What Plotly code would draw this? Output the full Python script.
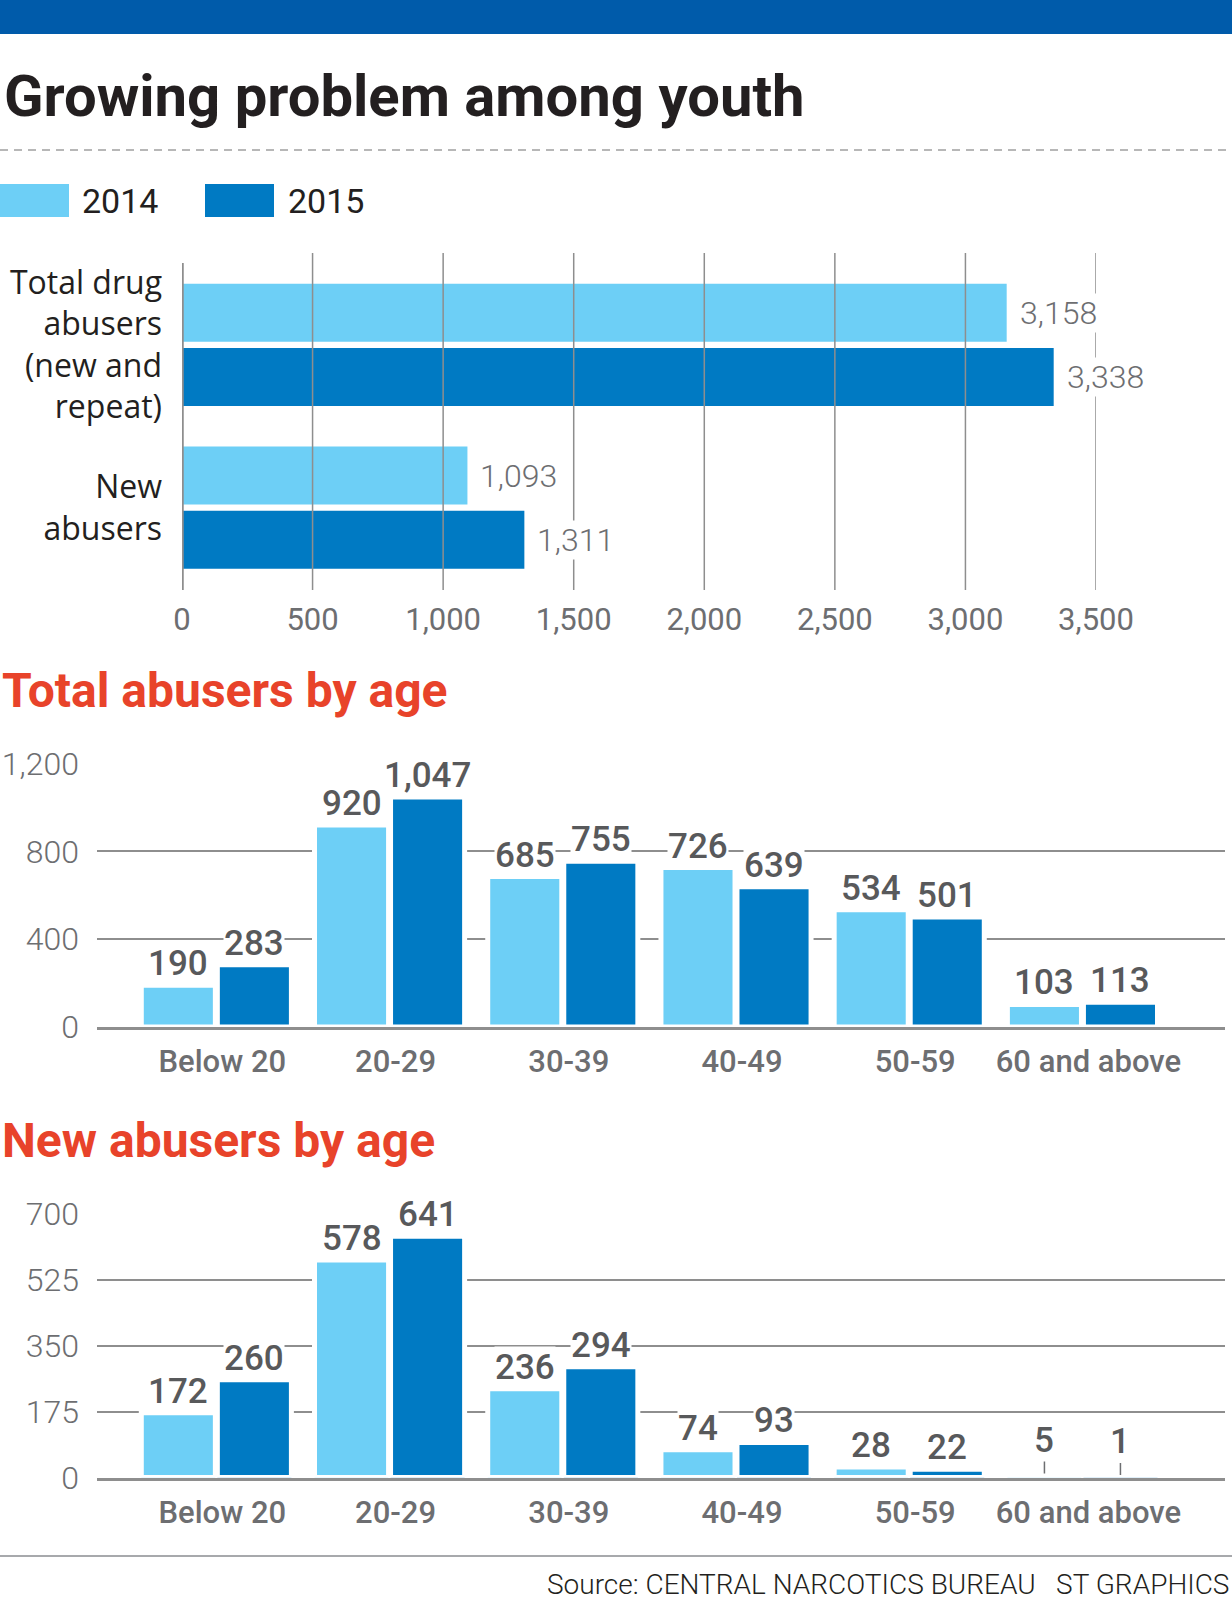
import plotly.graph_objects as go

W, H = 1232, 1600

# ---- data ----
years = ["2014", "2015"]
year_colors = ["#6DCFF6", "#007AC3"]

overall_labels = ["Total drug<br>abusers<br>(new and<br>repeat)", "New<br>abusers"]
overall_2014 = [3158, 1093]
overall_2015 = [3338, 1311]
overall_ticks = [0, 500, 1000, 1500, 2000, 2500, 3000, 3500]

age_groups = ["Below 20", "20-29", "30-39", "40-49", "50-59", "60 and above"]
total_2014 = [190, 920, 685, 726, 534, 103]
total_2015 = [283, 1047, 755, 639, 501, 113]
total_ticks = [0, 400, 800, 1200]

new_2014 = [172, 578, 236, 74, 28, 5]
new_2015 = [260, 641, 294, 93, 22, 1]
new_ticks = [0, 175, 350, 525, 700]

# ---- styles ----
DARK = "#231F20"
GREY = "#6D6E71"
VALGREY = "#58595B"
RED = "#E8432A"
GRID = "#8E8E8E"
SANS = "Roboto"


def py(px):
    # pixel row -> paper y
    return 1 - px / H


def pxx(px):
    return px / W


fig = go.Figure()

# chart 1: horizontal bars, fixed thickness via width/offset
bw, gap = 0.357, 0.019
for i, vals in enumerate([overall_2014, overall_2015]):
    fig.add_trace(go.Bar(y=overall_labels, x=vals, orientation="h", name=years[i],
                         marker=dict(color=year_colors[i], line_width=0),
                         width=bw, offset=(-bw - gap) if i == 0 else gap,
                         xaxis="x", yaxis="y", showlegend=False, hoverinfo="x"))

# charts 2 and 3: grouped vertical bars
for i, vals in enumerate([total_2014, total_2015]):
    fig.add_trace(go.Bar(x=age_groups, y=vals, name=years[i],
                         marker=dict(color=year_colors[i], line=dict(color="white", width=5)),
                         xaxis="x2", yaxis="y2", showlegend=False))
for i, vals in enumerate([new_2014, new_2015]):
    fig.add_trace(go.Bar(x=age_groups, y=vals, name=years[i],
                         marker=dict(color=year_colors[i], line=dict(color="white", width=5)),
                         xaxis="x3", yaxis="y3", showlegend=False))

annotations = []
shapes = []

# value labels, chart 1
for i, vals in enumerate([overall_2014, overall_2015]):
    for cat, v in zip(overall_labels, vals):
        annotations.append(dict(x=v, y=cat, xref="x", yref="y", text=f"{v:,}", showarrow=False,
                                xanchor="left", yanchor="middle", xshift=12,
                                yshift=32 if i == 0 else -32, bgcolor="white", borderpad=0,
                                font=dict(family=SANS, size=32, color=GREY, weight=300)))


def column_labels(xr, yr, vals_pair, top):
    for i, vals in enumerate(vals_pair):
        for cat, v in zip(age_groups, vals):
            small = v < top * 0.02
            annotations.append(dict(x=cat, y=v, xref=xr, yref=yr, text=f"{v:,}",
                                    showarrow=small, arrowhead=0, arrowwidth=1.5,
                                    arrowcolor=GREY, ax=0, ay=-14, standoff=2,
                                    xanchor="center", yanchor="bottom",
                                    xshift=-38 if i == 0 else 38,
                                    bgcolor="white", borderpad=0,
                                    font=dict(family=SANS, size=35, color=VALGREY, weight=500)))


column_labels("x2", "y2", [total_2014, total_2015], 1200)
column_labels("x3", "y3", [new_2014, new_2015], 700)

# chart 1 grid lines drawn above the bars
for t in overall_ticks:
    shapes.append(dict(type="line", xref="x", yref="y domain", x0=t, x1=t,
                       y0=0, y1=0.97 if t == 0 else 1, layer="above",
                       line=dict(color=GRID, width=3.5 if t == 0 else 1.5)))

# header decorations
shapes.append(dict(type="rect", xref="paper", yref="paper", x0=0, x1=1, y0=py(34), y1=1,
                   fillcolor="#005BAA", line_width=0))
shapes.append(dict(type="line", xref="paper", yref="paper", x0=0, x1=1, y0=py(150), y1=py(150),
                   line=dict(color="#A0A0A0", width=1.5, dash="8px,6px")))
shapes.append(dict(type="line", xref="paper", yref="paper", x0=0, x1=1, y0=py(1556), y1=py(1556),
                   line=dict(color="#A7A9AC", width=2)))

# legend swatches
for i, (x0, x1, tx) in enumerate([(0, 69, 80), (205, 274, 286)]):
    shapes.append(dict(type="rect", xref="paper", yref="paper", x0=pxx(x0), x1=pxx(x1),
                       y0=py(217), y1=py(184), fillcolor=year_colors[i], line_width=0))
    annotations.append(dict(x=pxx(tx), y=py(201), xref="paper", yref="paper", text=years[i],
                            showarrow=False, xanchor="left", yanchor="middle",
                            font=dict(family=SANS, size=34, color=DARK)))

annotations += [
    dict(x=pxx(2), y=py(96), xref="paper", yref="paper", text="Growing problem among youth",
         showarrow=False, xanchor="left", yanchor="middle",
         font=dict(family=SANS, size=58, color=DARK, weight=700)),
    dict(x=pxx(0), y=py(690), xref="paper", yref="paper", text="Total abusers by age",
         showarrow=False, xanchor="left", yanchor="middle",
         font=dict(family=SANS, size=48, color=RED, weight=700)),
    dict(x=pxx(0), y=py(1140), xref="paper", yref="paper", text="New abusers by age",
         showarrow=False, xanchor="left", yanchor="middle",
         font=dict(family=SANS, size=48, color=RED, weight=700)),
    dict(x=pxx(1231), y=py(1584), xref="paper", yref="paper",
         text="Source: CENTRAL NARCOTICS BUREAU   ST GRAPHICS",
         showarrow=False, xanchor="right", yanchor="middle",
         font=dict(family=SANS, size=28, color=DARK, weight=300)),
]

cat_font = dict(family=SANS, size=31, color=GREY, weight=500)
yt_font = dict(family=SANS, size=32, color=GREY, weight=300)

fig.update_layout(
    width=W, height=H, autosize=False,
    margin=dict(l=0, r=0, t=0, b=0),
    paper_bgcolor="white", plot_bgcolor="rgba(0,0,0,0)",
    barmode="group", bargap=0.122, bargroupgap=0.026,
    showlegend=False,
    annotations=annotations, shapes=shapes,
    xaxis=dict(domain=[pxx(182), pxx(1096)], range=[0, 3500], anchor="y", automargin=False,
               tickvals=overall_ticks, tickformat=",", showgrid=False, zeroline=False,
               showline=False, ticks="", tickfont=dict(family=SANS, size=31, color=GREY),
               ticklabelstandoff=8),
    yaxis=dict(domain=[py(590), py(253)], anchor="x", type="category", automargin=False,
               categoryorder="array", categoryarray=overall_labels,
               range=[1.507, -0.565], showgrid=False, zeroline=False, showline=False,
               ticks="", tickfont=dict(family="Open Sans", size=32, color=DARK),
               ticklabelstandoff=19),
    xaxis2=dict(domain=[pxx(97), pxx(1225)], range=[-0.689, 5.823], anchor="y2",
                automargin=False, showline=True, linecolor=GRID, linewidth=3, ticks="",
                showgrid=False, tickfont=cat_font, ticklabelstandoff=5, ticklabelshift=6),
    yaxis2=dict(domain=[py(1027), py(763.5)], range=[0, 1200], anchor="x2", automargin=False,
                tickvals=total_ticks, tickformat=",", gridcolor=GRID, gridwidth=1.5,
                zeroline=False, showline=False, ticks="", tickfont=yt_font,
                ticklabelstandoff=17),
    xaxis3=dict(domain=[pxx(97), pxx(1225)], range=[-0.689, 5.823], anchor="y3",
                automargin=False, showline=True, linecolor=GRID, linewidth=3, ticks="",
                showgrid=False, tickfont=cat_font, ticklabelstandoff=5, ticklabelshift=6),
    yaxis3=dict(domain=[py(1477.5), py(1214)], range=[0, 700], anchor="x3", automargin=False,
                tickvals=new_ticks, gridcolor=GRID, gridwidth=1.5,
                zeroline=False, showline=False, ticks="", tickfont=yt_font,
                ticklabelstandoff=17),
)

# the page's default body margin would push the figure 8px in
fig.write_html("out.html", config={"displayModeBar": False},
               post_script="document.body.style.margin = '0px';")
